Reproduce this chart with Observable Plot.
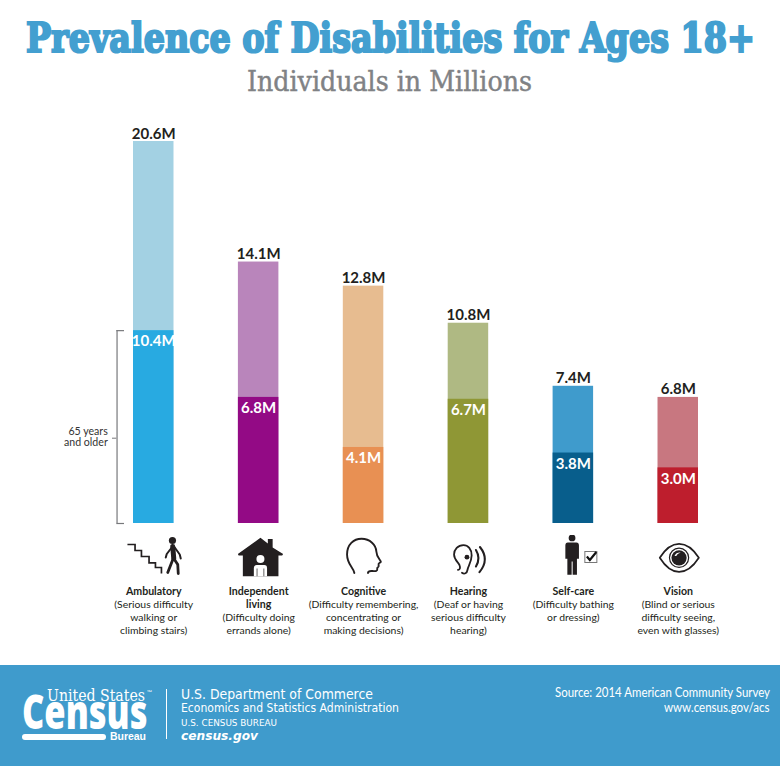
<!DOCTYPE html>
<html>
<head>
<meta charset="utf-8">
<script src="https://cdn.jsdelivr.net/npm/d3@7"></script>
<script src="https://cdn.jsdelivr.net/npm/@observablehq/plot@0.6"></script>
<style>
html,body{margin:0;padding:0;background:#fff;overflow:hidden}
#head,#foot{position:relative;width:780px;overflow:hidden}
#head{height:115px}
#foot{height:101px;background:#3f9bcc;color:#fff}
.t{position:absolute;white-space:nowrap;line-height:1.2;transform-origin:0 50%}
.b{position:absolute;background:#fff}
</style>
</head>
<body>
<div id="head"></div>
<div id="chart"></div>
<div id="foot"></div>
<script>
const categories = ["Ambulatory","Independent living","Cognitive","Hearing","Self-care","Vision"];
const totals = [20.6,14.1,12.8,10.8,7.4,6.8];
const older = [10.4,6.8,4.1,6.7,3.8,3.0];
const lightColors = ["#a3d1e3","#b985bb","#e7bc90","#afb983","#3f9bcc","#c87780"];
const darkColors = ["#28aae1","#930a85","#e89053","#8f9735","#085e8c","#be1e2d"];
const nameLines = ["Ambulatory","Independent\nliving","Cognitive","Hearing","Self-care","Vision"];
const descriptions = [
  "(Serious difficulty\nwalking or\nclimbing stairs)",
  "(Difficulty doing\nerrands alone)",
  "(Difficulty remembering,\nconcentrating or\nmaking decisions)",
  "(Deaf or having\nserious difficulty\nhearing)",
  "(Difficulty bathing\nor dressing)",
  "(Blind or serious\ndifficulty seeing,\neven with glasses)"
];
const K = "#231f20";
const s = `fill='none' stroke='${K}' stroke-linecap='round' stroke-linejoin='round'`;
const iconBodies = [
  // stairs and walking man
  `<path d='M5.7 10H13.3V16H19.7V22H27.3V28.3H33.7V33H39.7V39' fill='none' stroke='${K}' stroke-width='1.7'/>
   <circle cx='50.7' cy='6' r='3.6' fill='${K}'/>
   <path d='M51 12L52 24' ${s} stroke-width='5'/>
   <path d='M51.5 24L46 38' ${s} stroke-width='2.8'/>
   <path d='M52 24L56 30L56.5 39' ${s} stroke-width='2.8'/>
   <path d='M50 13L45 19.5L44 23' ${s} stroke-width='2'/>
   <path d='M53 13L58 20L59 24' ${s} stroke-width='2'/>`,
  // house
  `<path d='M33.8 3.3L41.2 9V4.5H46V13L56.5 19.6L55.5 21H51.8V41.7H16.2V21H12L11.2 19.6Z' fill='${K}'/>
   <circle cx='33.8' cy='24.6' r='4' fill='#fff'/>
   <path d='M27.2 41.7V33.5Q27.2 30.6 30 30.6H37.6Q40.4 30.6 40.4 33.5V41.7Z' fill='#fff'/>
   <path d='M30.4 34V41.7M37.2 34V41.7' stroke='${K}' stroke-width='.7'/>`,
  // head
  `<path d='M22.8 38.5C22 33 15.5 30 15.5 20C15.5 10 22 4.3 30 4.3C38.5 4.3 44.5 10.5 44.8 17C45 21 46 22.5 48 25C49.5 27 50 27.5 47.8 28.5C46.2 29.2 47.5 30.5 47 32C46.6 33 45.2 33 45.7 34.5C46 36.5 44.5 37 41 36.5C38 36.2 36.6 37 36.4 38.5' ${s} stroke-width='1.9'/>`,
  // ear and sound waves
  `<path d='M25.5 38.3C28 40 30.5 38.8 31 35.5C31.5 32 35 28 35.2 21C35.3 14.5 31.5 10.6 27 10.6C21.5 10.6 17.6 15 17.6 20C17.6 25 21.5 27.5 23 30.5C24 33 23.8 35.5 21.5 35.3' ${s} stroke-width='1.8'/>
   <circle cx='30.5' cy='22.7' r='2.4' fill='${K}'/>
   <path d='M39.5 15.5Q44.5 23.7 39.5 32' ${s} stroke-width='2.1'/>
   <path d='M43.5 12.5Q53.5 25 43 37.7' ${s} stroke-width='2.1'/>`,
  // person with checkbox
  `<circle cx='30.7' cy='3.4' r='3.4' fill='${K}'/>
   <path d='M26.5 8H35Q37.6 8 37.6 11V24.2H35.6V40.3H31.3V27H30.3V40.3H26V24.2H24V11Q24 8 26.5 8Z' fill='${K}'/>
   <rect x='43.5' y='17' width='12' height='11' fill='#fff' stroke='#777' stroke-width='1'/>
   <path d='M45.5 22L48.5 25.5L55 17.5' fill='none' stroke='#111' stroke-width='2.2'/>`,
  // eye
  `<path d='M13.5 23.3C20 13 27 9.4 32.8 9.4C38.6 9.4 46 13 52.6 23.3C46 33.6 38.6 37.4 32.8 37.4C27 37.4 20 33.6 13.5 23.3Z' ${s} stroke-width='1.7'/>
   <circle cx='32.8' cy='23.3' r='9.6' fill='#fff' stroke='${K}' stroke-width='1.2'/>
   <circle cx='32.8' cy='23.3' r='7.6' fill='${K}'/>
   <path d='M28.2 21.4Q30 17.6 34.4 18Q30.8 19 30 21.6Z' fill='#fff'/>`
];
const iconUri = b => "data:image/svg+xml," + encodeURIComponent(`<svg xmlns='http://www.w3.org/2000/svg' width='64' height='44' viewBox='0 0 64 44'>${b}</svg>`);
const rows = categories.map((c,i)=>({c,total:totals[i],older:older[i],light:lightColors[i],dark:darkColors[i],
  name:nameLines[i],desc:"\n".repeat(nameLines[i].split("\n").length)+descriptions[i],icon:iconUri(iconBodies[i])}));
const bracketStem = 4.6;

const plot = Plot.plot({
  width:780,height:550,margin:0,
  style:{background:"transparent",display:"block"},
  x:{domain:categories,range:[133,698],paddingInner:0.614,paddingOuter:0,round:false,axis:null},
  y:{domain:[0,20.6],range:[408,26],axis:null},
  marks:[
    Plot.barY(rows,{x:"c",y:"total",fill:"light"}),
    Plot.barY(rows,{x:"c",y:"older",fill:"dark"}),
    Plot.text(rows,{x:"c",y:"total",text:d=>d.total.toFixed(1)+"M",lineAnchor:"bottom",dy:-3,fontFamily:"Lato",fontWeight:700,fontSize:15,fill:"#231f20"}),
    Plot.text(rows,{x:"c",y:"older",text:d=>d.older.toFixed(1)+"M",lineAnchor:"top",dy:5,fontFamily:"Lato",fontWeight:700,fontSize:15,fill:"#fff"}),
    Plot.ruleX(rows.slice(0,1),{x:"c",y1:0,y2:"older",dx:-36.7,stroke:"#77787b",strokeWidth:1.2}),
    Plot.ruleY([0,older[0]],{insetLeft:116.3,insetRight:780-124,stroke:"#77787b",strokeWidth:1.2}),
    Plot.ruleY([bracketStem],{insetLeft:112,insetRight:780-116.3,stroke:"#77787b",strokeWidth:1}),
    Plot.text(rows.slice(0,1),{x:"c",y:()=>bracketStem,text:()=>"65 years\nand older",dx:-46,dy:-1,textAnchor:"end",fontFamily:"Lato",fontSize:10.6,lineHeight:1.06,fill:"#333"}),
    Plot.image(rows,{x:"c",y:()=>0,src:"icon",width:64,height:44,dy:33}),
    Plot.text(rows,{x:"c",y:()=>0,text:"name",lineAnchor:"top",dy:62,fontFamily:"Lato",fontWeight:700,fontSize:10.6,lineHeight:1.23,fill:"#231f20"}),
    Plot.text(rows,{x:"c",y:()=>0,text:"desc",lineAnchor:"top",dy:62,fontFamily:"Lato",fontSize:10.4,lineHeight:1.25,fill:"#231f20"})
  ]
});
document.getElementById("chart").append(plot);

// place a line of text by its baseline and fit it to the measured width
function put(parent,text,x,baseline,width,css){
  const el=document.createElement("div");el.className="t";el.textContent=text;el.style.cssText=css;el.style.left=x+"px";
  parent.append(el);
  const p=document.createElement("span");p.style.cssText="display:inline-block;width:0;height:0";el.append(p);
  const r=el.getBoundingClientRect();const b=p.getBoundingClientRect().bottom-r.top;p.remove();
  el.style.top=(baseline-b)+"px";
  const w=el.getBoundingClientRect().width;
  el.style.transform=`scaleX(${width/w})`;
  return el;
}
const head=document.getElementById("head"),foot=document.getElementById("foot");
put(head,"Prevalence of Disabilities for Ages 18+",26,52,729,"font-family:'DejaVu Serif';font-weight:700;font-size:41px;color:#439fd0;-webkit-text-stroke:2.2px #439fd0;paint-order:stroke");
put(head,"Individuals in Millions",247,91,285,"font-family:'DejaVu Serif';font-size:27px;color:#808285;-webkit-text-stroke:.45px #808285");
const F=665, S="font-family:'Open Sans';";
put(foot,"United States",47,700.7-F,98,"font-family:'DejaVu Serif';font-size:17px;line-height:.8;color:#fff");
put(foot,"™",146.5,694-F,5,S+"font-size:5px;line-height:.8;color:#fff");
put(foot,"Census",21.5,728.5-F,125.5,S+"font-weight:800;font-size:47px;line-height:.62;color:#fff");
put(foot,"Bureau",110,740-F,36,"font-family:'Liberation Sans';font-weight:700;font-size:11px;line-height:.8;color:#fff");
const pill=document.createElement("div");pill.className="b";pill.style.cssText=`left:21.5px;top:${734-F}px;width:84px;height:6px;border-radius:3px`;foot.append(pill);
const rule=document.createElement("div");rule.className="b";rule.style.cssText=`left:166px;top:${689-F}px;width:1px;height:50px`;foot.append(rule);
const D="font-family:'DejaVu Sans';color:#fff;";
put(foot,"U.S. Department of Commerce",181,698.5-F,192,D+"font-size:13.5px");
put(foot,"Economics and Statistics Administration",181,711.7-F,218,D+"font-size:11.5px");
put(foot,"U.S. CENSUS BUREAU",181,726-F,96,D+"font-size:9.5px");
put(foot,"census.gov",181,739.5-F,77,D+"font-weight:700;font-style:italic;font-size:12.5px");
put(foot,"Source: 2014 American Community Survey",554.5,696.7-F,215,"font-family:Lato;font-size:12.5px;color:#fff");
put(foot,"www.census.gov/acs",664,711.7-F,105.5,"font-family:Lato;font-size:12.5px;color:#fff");
</script>
</body>
</html>
